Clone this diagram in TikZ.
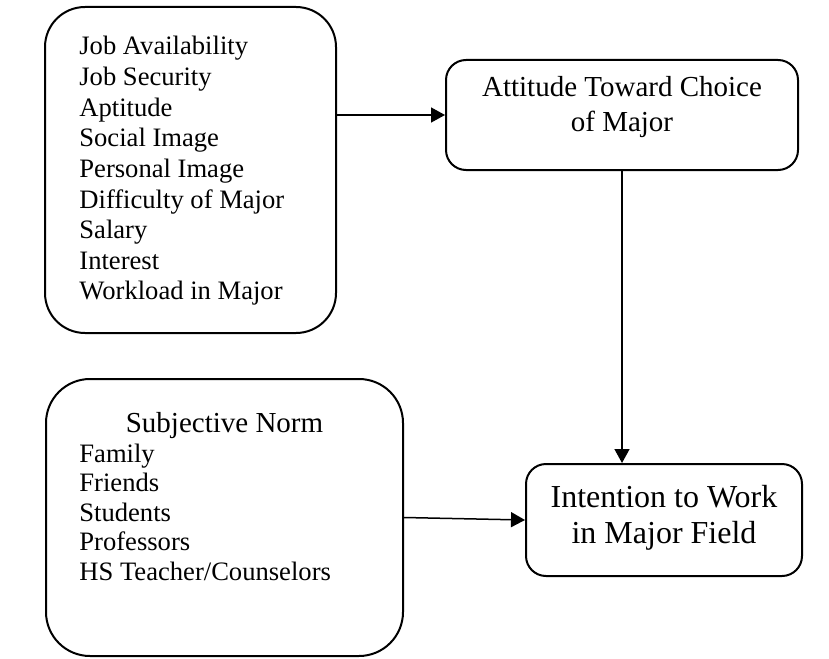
\documentclass[tikz,border=0pt]{standalone}
\usepackage{fontspec}
\setmainfont{Liberation Serif}
\usetikzlibrary{arrows.meta}

\begin{document}
\begin{tikzpicture}[x = 0.5pt, y = -0.5pt,
                        rbox/.style = {draw, line width = 1pt, inner sep = 0pt, rounded corners = #1},
                        item/.style = {font = \fontsize{13.3pt}{15pt}\selectfont, inner sep = 0pt, anchor = base west},
                        head/.style = {font = \fontsize{14.5pt}{17pt}\selectfont, inner sep = 0pt, anchor = base},
                        large/.style = {font = \fontsize{16pt}{18pt}\selectfont, inner sep = 0pt, anchor = base},
                        arr/.style = {line width = 0.75pt, -{Triangle[length = 7pt, width = 7.5pt]}}]
      \useasboundingbox (0, 0) rectangle (829, 658);

      \node [rbox = 20pt, minimum width = 145.5pt, minimum height = 163pt] (avail) at (190.5, 170){};
      \node [rbox = 10pt, minimum width = 176pt, minimum height = 55pt] (attitude) at (622, 115){};
      \node [rbox = 22pt, minimum width = 178.5pt, minimum height = 138.5pt] (norm) at (224.5, 517.5){};
      \node [rbox = 10pt, minimum width = 138pt, minimum height = 56pt] (intent) at (664, 520){};

      \foreach \t [count = \i] in {Job Availability, Job Security, Aptitude, Social Image,
                                  Personal Image, Difficulty of Major, Salary, Interest, Workload in Major}
        \node [item] (a\i) at (79, {55 + 30.6*(\i - 1)}) {\t};

      \node [head] (t1) at (622, 97) {Attitude Toward Choice};
      \node [head] (t2) at (622, 132) {of Major};

      \node [head] (n0) at (224.5, 432) {Subjective Norm};
      \foreach \t [count = \i] in {Family, Friends, Students, Professors, HS Teacher/Counselors}
        \node [item] (n\i) at (79, {462 + 29.5*(\i - 1)}) {\t};

      \node [large] (i1) at (664, 507) {Intention to Work};
      \node [large] (i2) at (664, 543) {in Major Field};

      \draw [arr] (avail.east |- attitude.west) -- (attitude.west);
      \draw [arr] (attitude.south) -- (attitude.south |- intent.north);
      \draw [arr] (norm.east) -- (intent.west);

      \end{tikzpicture}
\end{document}
